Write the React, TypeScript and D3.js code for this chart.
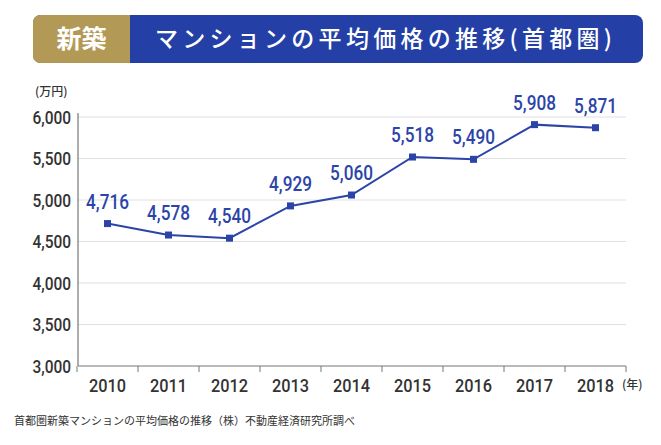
import React from "react";
import * as d3 from "d3";

const years = ["2010", "2011", "2012", "2013", "2014", "2015", "2016", "2017", "2018"];
const prices = [4716, 4578, 4540, 4929, 5060, 5518, 5490, 5908, 5871];
const yTicks = [3000, 3500, 4000, 4500, 5000, 5500, 6000];

const W = 661;
const H = 445;
const font = "Roboto, 'Noto Sans CJK JP', sans-serif";
const jp = "'Noto Sans CJK JP', sans-serif";

export default function App() {
  const x = d3.scaleBand<string>().domain(years).range([77, 626]).padding(0);
  const y = d3.scaleLinear().domain([3000, 6000]).range([366, 117]);
  const fmt = d3.format(",");
  const cx = (d: string) => (x(d) as number) + x.bandwidth() / 2;
  const line = d3
    .line<number>()
    .x((_, i) => cx(years[i]))
    .y((v) => y(v));
  const boundaries = years.map((d) => x(d) as number).concat([626]);

  const bx = 33, by = 15, bw = 610, bh = 48, r = 8, gw = 97;
  const goldPath = `M${bx + gw},${by} L${bx + r},${by} Q${bx},${by} ${bx},${by + r} L${bx},${by + bh - r} Q${bx},${by + bh} ${bx + r},${by + bh} L${bx + gw},${by + bh} Z`;

  return (
    <svg width={W} height={H} style={{ position: "absolute", left: 0, top: 0, background: "#fff" }}>
      <rect x={0} y={0} width={W} height={H} fill="#fff" />
      {/* Title banner */}
      <rect x={bx} y={by} width={bw} height={bh} rx={r} ry={r} fill="#2440A6" />
      <path d={goldPath} fill="#B29A56" />
      <text x={bx + gw / 2} y={by + bh / 2 + 9} textAnchor="middle" fill="#fff" fontFamily={jp} fontWeight={700} fontSize={25}>
        新築
      </text>
      <text x={155} y={by + bh / 2 + 8} fill="#fff" fontFamily={jp} fontWeight={500} fontSize={23} textLength={457} lengthAdjust="spacing">
        マンションの平均価格の推移(首都圏)
      </text>

      {/* unit */}
      <text x={35} y={96} fill="#333" fontFamily={jp} fontSize={12} fontWeight={500}>
        (万円)
      </text>

      {/* gridlines */}
      {yTicks.filter((t) => t > 3000).map((t) => (
        <line key={t} x1={78} x2={626} y1={y(t)} y2={y(t)} stroke="#e0e0e0" strokeWidth={1} />
      ))}
      {/* y axis */}
      <line x1={78} x2={78} y1={113} y2={366} stroke="#777" strokeWidth={1.2} />
      {yTicks.map((t) => (
        <text
          key={t}
          transform={`translate(71,${y(t) + 6.5}) scale(0.86,1)`}
          textAnchor="end"
          fill="#333"
          fontFamily={font}
          fontWeight={500}
          fontSize={18}
        >
          {fmt(t)}
        </text>
      ))}
      {/* x axis */}
      <line x1={78} x2={626} y1={366} y2={366} stroke="#777" strokeWidth={1.2} />
      {boundaries.map((b, i) => (
        <line key={i} x1={b} x2={b} y1={366} y2={372} stroke="#777" strokeWidth={1} />
      ))}
      {years.map((d) => (
        <text
          key={d}
          transform={`translate(${cx(d)},${392}) scale(0.86,1)`}
          textAnchor="middle"
          fill="#333"
          fontFamily={font}
          fontWeight={500}
          fontSize={19}
        >
          {d}
        </text>
      ))}
      <text x={622} y={389} fill="#333" fontFamily={jp} fontSize={12} fontWeight={500}>
        (年)
      </text>

      {/* line */}
      <path d={line(prices) as string} fill="none" stroke="#2B44A8" strokeWidth={2} />
      {prices.map((v, i) => (
        <rect key={i} x={cx(years[i]) - 3.5} y={y(v) - 3.5} width={7} height={7} fill="#2B44A8" />
      ))}
      {prices.map((v, i) => (
        <text
          key={"l" + i}
          transform={`translate(${cx(years[i])},${y(v) - 15}) scale(0.86,1)`}
          textAnchor="middle"
          fill="#2B44A8"
          fontFamily={font}
          fontWeight={500}
          fontSize={20}
        >
          {fmt(v)}
        </text>
      ))}

      {/* footer */}
      <text x={14} y={425} fill="#333" fontFamily={jp} fontSize={11}>
        首都圏新築マンションの平均価格の推移（株）不動産経済研究所調べ
      </text>
    </svg>
  );
}
